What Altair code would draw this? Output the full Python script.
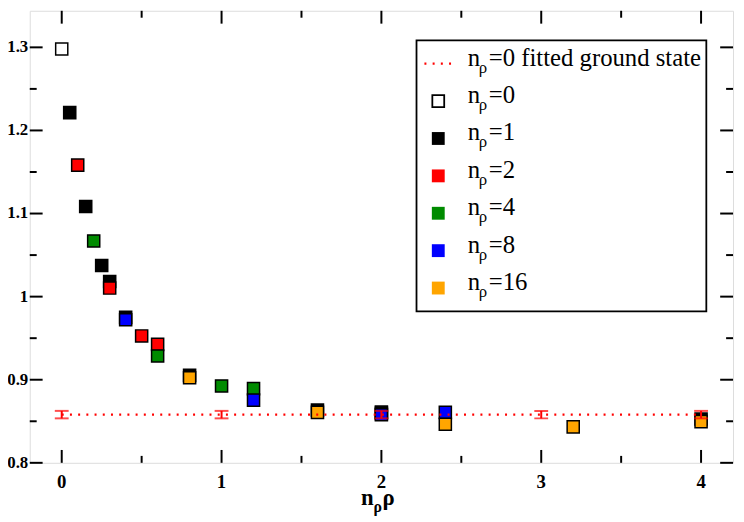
import altair as alt
import pandas as pd

# ---------------- data ----------------
n_values = ["0", "1", "2", "4", "8", "16"]
series_colors = ["white", "black", "#ff0000", "#008b00", "#0000ff", "#ffa500"]

x_n0 = [0.0]
y_n0 = [1.298]
x_n1 = [0.05, 0.15, 0.25, 0.3, 0.4, 0.8, 1.6, 2.0, 4.0]
y_n1 = [1.2215, 1.1085, 1.0375, 1.0183, 0.9750, 0.9052, 0.8635, 0.8610, 0.8527]
x_n2 = [0.1, 0.3, 0.5, 0.6, 2.0]
y_n2 = [1.1583, 1.0103, 0.9527, 0.9425, 0.8595]
x_n4 = [0.2, 0.6, 1.0, 1.2]
y_n4 = [1.0670, 0.9286, 0.8925, 0.8893]
x_n8 = [0.4, 1.2, 2.0, 2.4]
y_n8 = [0.9722, 0.8754, 0.8578, 0.8607]
x_n16 = [0.8, 1.6, 2.4, 3.2, 4.0]
y_n16 = [0.9024, 0.8607, 0.8464, 0.8432, 0.8496]

fit_x = [0, 1, 2, 3, 4]
fit_y = [0.858, 0.858, 0.858, 0.858, 0.858]
fit_err = [0.0045, 0.0045, 0.0045, 0.0045, 0.0045]

x_major = [0, 1, 2, 3, 4]
x_major_labels = ["0", "1", "2", "3", "4"]
x_minor = [0.5, 1.5, 2.5, 3.5]
y_major = [0.8, 0.9, 1.0, 1.1, 1.2, 1.3]
y_major_labels = ["0.8", "0.9", "1", "1.1", "1.2", "1.3"]
y_minor = [0.85, 0.95, 1.05, 1.15, 1.25]

legend_first = "=0 fitted ground state"

# ---------------- layout / style ----------------
W, H = 711, 457
FONT = "Times New Roman, Liberation Serif, Times, serif"
MAJ, MIN = 13, 7

xs = alt.Scale(domain=[-0.2, 4.2], nice=False, zero=False)
ys = alt.Scale(domain=[0.8, 1.344], nice=False, zero=False)

xaxis = alt.Axis(values=x_major, title=None, ticks=False, tickSize=0, domain=False,
                 grid=False, labels=False)
yaxis = alt.Axis(values=y_major, title=None, ticks=False, tickSize=0, domain=False,
                 grid=False, labels=False)

rows = []
for name, xv, yv in zip(n_values,
                        [x_n0, x_n1, x_n2, x_n4, x_n8, x_n16],
                        [y_n0, y_n1, y_n2, y_n4, y_n8, y_n16]):
    for a, b in zip(xv, yv):
        rows.append({"x": a, "y": b, "series": name})
df = pd.DataFrame(rows)

fit_df = pd.DataFrame({"x": fit_x, "y": fit_y,
                       "lo": [v - e for v, e in zip(fit_y, fit_err)],
                       "hi": [v + e for v, e in zip(fit_y, fit_err)]})

# frame ticks (inward, all four sides)
def xticks(vals, length):
    d = pd.DataFrame({"t": vals})
    bottom = alt.Chart(d).mark_rule(color="black", strokeWidth=2).encode(
        x=alt.X("t:Q", scale=xs, axis=xaxis), y=alt.value(H - length), y2=alt.value(H))
    top = alt.Chart(d).mark_rule(color="black", strokeWidth=2).encode(
        x=alt.X("t:Q", scale=xs, axis=xaxis), y=alt.value(0), y2=alt.value(length))
    return [bottom, top]

def yticks(vals, length):
    d = pd.DataFrame({"t": vals})
    left = alt.Chart(d).mark_rule(color="black", strokeWidth=2).encode(
        y=alt.Y("t:Q", scale=ys, axis=yaxis), x=alt.value(0), x2=alt.value(length))
    right = alt.Chart(d).mark_rule(color="black", strokeWidth=2).encode(
        y=alt.Y("t:Q", scale=ys, axis=yaxis), x=alt.value(W - length), x2=alt.value(W))
    return [left, right]

tick_layers = xticks(x_major, MAJ) + xticks(x_minor, MIN) + yticks(y_major, MAJ) + yticks(y_minor, MIN)

# tick labels as text marks (bold serif, placed like the reference)
lab_kw = dict(font=FONT, fontWeight="bold", color="black")
ylab = alt.Chart(pd.DataFrame({"t": y_major, "lab": y_major_labels})).mark_text(
    fontSize=17, align="right", baseline="middle", **lab_kw).encode(
    y=alt.Y("t:Q", scale=ys, axis=yaxis), x=alt.value(-1.5), text="lab:N")
xlab = alt.Chart(pd.DataFrame({"t": x_major, "lab": x_major_labels})).mark_text(
    fontSize=19, align="center", baseline="middle", **lab_kw).encode(
    x=alt.X("t:Q", scale=xs, axis=xaxis), y=alt.value(H + 19), text="lab:N")

points = alt.Chart(df).mark_point(shape="square", filled=True, size=150, stroke="black",
                                  strokeWidth=1.5, opacity=1).encode(
    x=alt.X("x:Q", scale=xs, axis=xaxis),
    y=alt.Y("y:Q", scale=ys, axis=yaxis),
    fill=alt.Fill("series:N", scale=alt.Scale(domain=n_values, range=series_colors), legend=None),
)

fit_line = alt.Chart(fit_df).mark_line(color="#ff0000", strokeWidth=2.2, strokeDash=[2, 6.3]).encode(
    x=alt.X("x:Q", scale=xs, axis=xaxis), y=alt.Y("y:Q", scale=ys, axis=yaxis))
err_rule = alt.Chart(fit_df).mark_rule(color="#ff0000", strokeWidth=2).encode(
    x=alt.X("x:Q", scale=xs, axis=xaxis), y=alt.Y("lo:Q", scale=ys, axis=yaxis), y2="hi:Q")
cap_lo = alt.Chart(fit_df).mark_tick(color="#ff0000", orient="horizontal", size=14, thickness=2).encode(
    x=alt.X("x:Q", scale=xs, axis=xaxis), y=alt.Y("lo:Q", scale=ys, axis=yaxis))
cap_hi = alt.Chart(fit_df).mark_tick(color="#ff0000", orient="horizontal", size=14, thickness=2).encode(
    x=alt.X("x:Q", scale=xs, axis=xaxis), y=alt.Y("hi:Q", scale=ys, axis=yaxis))

# ---------------- custom legend (pixel layout) ----------------
LX0, LX1, LY0, LY1 = 391, 684, 30, 304
ROW0, STEP = 53.5, 37.8
SYM_X, LINE_X0, LINE_X1 = 413, 399, 427
TXT_N, TXT_SUB, TXT_REST = 442.7, 454, 464

legend_box = alt.Chart(pd.DataFrame({"a": [0]})).mark_rect(
    fill="white", stroke="black", strokeWidth=1.8).encode(
    x=alt.value(LX0), x2=alt.value(LX1), y=alt.value(LY0), y2=alt.value(LY1))
legend_line = alt.Chart(pd.DataFrame({"a": [0]})).mark_rule(
    color="#ff0000", strokeWidth=2.2, strokeDash=[2, 6.3]).encode(
    x=alt.value(LINE_X0), x2=alt.value(LINE_X1), y=alt.value(ROW0), y2=alt.value(ROW0))

rests = [legend_first] + ["=" + n for n in n_values]
leg_txt = pd.DataFrame({
    "rest": rests,
    "yb": [ROW0 + STEP * k + 2 for k in range(len(rests))],
    "ys": [ROW0 + STEP * k + 9 for k in range(len(rests))],
    "xn": [TXT_N] * len(rests),
    "xs": [TXT_SUB] * len(rests),
    "xr": [TXT_REST] * len(rests),
    "n": ["n"] * len(rests),
    "rho": ["\u03c1"] * len(rests),
})
leg_sym = pd.DataFrame({
    "sx": [SYM_X] * len(n_values),
    "sy": [ROW0 + STEP * (k + 1) for k in range(len(n_values))],
    "fill": series_colors,
    "stroke": ["black"] + series_colors[1:],
    "sw": [1.8] + [0.0] * (len(n_values) - 1),
    "size": [144] + [169] * (len(n_values) - 1),
})

legend_syms = alt.Chart(leg_sym).mark_point(shape="square", filled=True, opacity=1).encode(
    x=alt.X("sx:Q", scale=None), y=alt.Y("sy:Q", scale=None),
    fill=alt.Fill("fill:N", scale=None), stroke=alt.Stroke("stroke:N", scale=None),
    strokeWidth=alt.StrokeWidth("sw:Q", scale=None), size=alt.Size("size:Q", scale=None))

txt_kw = dict(font=FONT, color="black", align="left", baseline="alphabetic")
legend_n = alt.Chart(leg_txt).mark_text(fontSize=25, **txt_kw).encode(
    x=alt.X("xn:Q", scale=None), y=alt.Y("yb:Q", scale=None), text="n:N")
legend_sub = alt.Chart(leg_txt).mark_text(fontSize=17, **txt_kw).encode(
    x=alt.X("xs:Q", scale=None), y=alt.Y("ys:Q", scale=None), text="rho:N")
legend_rest = alt.Chart(leg_txt).mark_text(fontSize=25, **txt_kw).encode(
    x=alt.X("xr:Q", scale=None), y=alt.Y("yb:Q", scale=None), text="rest:N")

# ---------------- x-axis title n_rho rho ----------------
one = pd.DataFrame({"a": [0]})
title_kw = dict(font=FONT, color="black", align="left", baseline="alphabetic", fontWeight="bold")
t_n = alt.Chart(one).mark_text(text="n", fontSize=23, **title_kw).encode(
    x=alt.value(335), y=alt.value(500))
t_sub = alt.Chart(one).mark_text(text="\u03c1", fontSize=16, **title_kw).encode(
    x=alt.value(347.5), y=alt.value(507))
t_rho = alt.Chart(one).mark_text(text="\u03c1", fontSize=23, **title_kw).encode(
    x=alt.value(356.5), y=alt.value(500))

chart = alt.layer(
    points, fit_line, err_rule, cap_lo, cap_hi,
    *tick_layers, ylab, xlab,
    legend_box, legend_line, legend_syms, legend_n, legend_sub, legend_rest,
    t_n, t_sub, t_rho,
).properties(
    width=W, height=H,
    autosize=alt.AutoSizeParams(type="none"),
    padding={"left": 22, "top": 0, "right": 3, "bottom": 56},
).configure_view(
    stroke="black", strokeWidth=2, fill="white"
).configure(background="white")

chart.save("out.html", embed_options={"renderer": "svg", "actions": False})
